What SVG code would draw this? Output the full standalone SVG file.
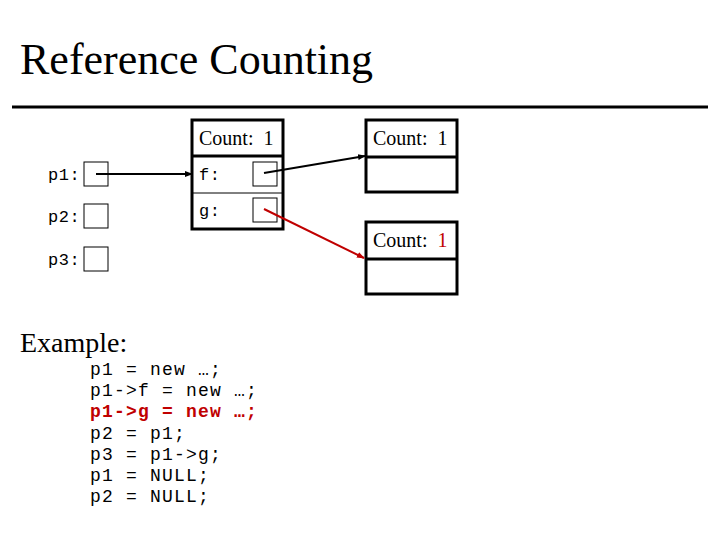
<svg xmlns="http://www.w3.org/2000/svg" width="720" height="540" viewBox="0 0 720 540">
<style>
.serif{font-family:"Liberation Serif","Times New Roman",serif;fill:#000;white-space:pre}
.cnt{font-size:20px}
.mono{font-family:"Liberation Mono","Courier New",monospace;font-size:18px;letter-spacing:1.2px;fill:#000;white-space:pre}
.lbl{font-family:"Liberation Mono","Courier New",monospace;font-size:17px;letter-spacing:0.5px;fill:#000}
.box{fill:#fff;stroke:#000;stroke-width:1}
.obj{fill:#fff;stroke:#000;stroke-width:3}
.div{stroke:#000;stroke-width:3}
.thin{stroke:#000;stroke-width:1}
.red{fill:#c00000}
</style>
<defs>
<marker id="ah" markerWidth="8" markerHeight="8" refX="7" refY="4" orient="auto" markerUnits="userSpaceOnUse"><path d="M0,1 L8,4 L0,7 z" fill="#000"/></marker>
<marker id="ahr" markerWidth="8" markerHeight="8" refX="7" refY="4" orient="auto" markerUnits="userSpaceOnUse"><path d="M0,1 L8,4 L0,7 z" fill="#c00000"/></marker>
</defs>
<rect width="720" height="540" fill="#fff"/>
<text class="serif" x="20" y="74" font-size="44">Reference Counting</text>
<line x1="12" y1="107" x2="708" y2="107" stroke="#000" stroke-width="3"/>

<g id="p1"><text class="lbl" x="48" y="180">p1:</text><rect class="box" x="84" y="162" width="24" height="24"/></g>
<g id="p2"><text class="lbl" x="48" y="222">p2:</text><rect class="box" x="84" y="204" width="24" height="24"/></g>
<g id="p3"><text class="lbl" x="48" y="265">p3:</text><rect class="box" x="84" y="247" width="24" height="24"/></g>

<g id="obj1">
<rect class="obj" x="192" y="120" width="91" height="109"/>
<line class="div" x1="192" y1="156" x2="283" y2="156"/>
<line class="thin" x1="192" y1="193" x2="283" y2="193"/>
<text class="serif cnt" x="199" y="145">Count:  1</text>
<text class="lbl" x="199" y="180">f:</text>
<text class="lbl" x="199" y="216">g:</text>
<rect class="box" x="253" y="162" width="24" height="24"/>
<rect class="box" x="253" y="198" width="24" height="24"/>
</g>

<g id="obj2">
<rect class="obj" x="366" y="120" width="91" height="72"/>
<line class="div" x1="366" y1="157" x2="457" y2="157"/>
<text class="serif cnt" x="373" y="145">Count:  1</text>
</g>

<g id="obj3">
<rect class="obj" x="366" y="222" width="91" height="72"/>
<line class="div" x1="366" y1="259" x2="457" y2="259"/>
<text class="serif cnt" x="373" y="247">Count:  <tspan class="red">1</tspan></text>
</g>

<g id="connectors">
<line x1="96" y1="174" x2="192" y2="174" stroke="#000" stroke-width="2" marker-end="url(#ah)"/>
<line x1="264" y1="173" x2="365" y2="156" stroke="#000" stroke-width="2" marker-end="url(#ah)"/>
<line x1="264" y1="209" x2="364" y2="258" stroke="#c00000" stroke-width="2" marker-end="url(#ahr)"/>
</g>

<g id="example">
<text class="serif" x="20" y="352" font-size="28">Example:</text>
<text class="mono" x="90" y="375">p1 = new …;</text>
<text class="mono" x="90" y="396">p1-&gt;f = new …;</text>
<text class="mono red" x="90" y="417" font-weight="bold">p1-&gt;g = new …;</text>
<text class="mono" x="90" y="439">p2 = p1;</text>
<text class="mono" x="90" y="460">p3 = p1-&gt;g;</text>
<text class="mono" x="90" y="481">p1 = NULL;</text>
<text class="mono" x="90" y="502">p2 = NULL;</text>
</g>
</svg>
